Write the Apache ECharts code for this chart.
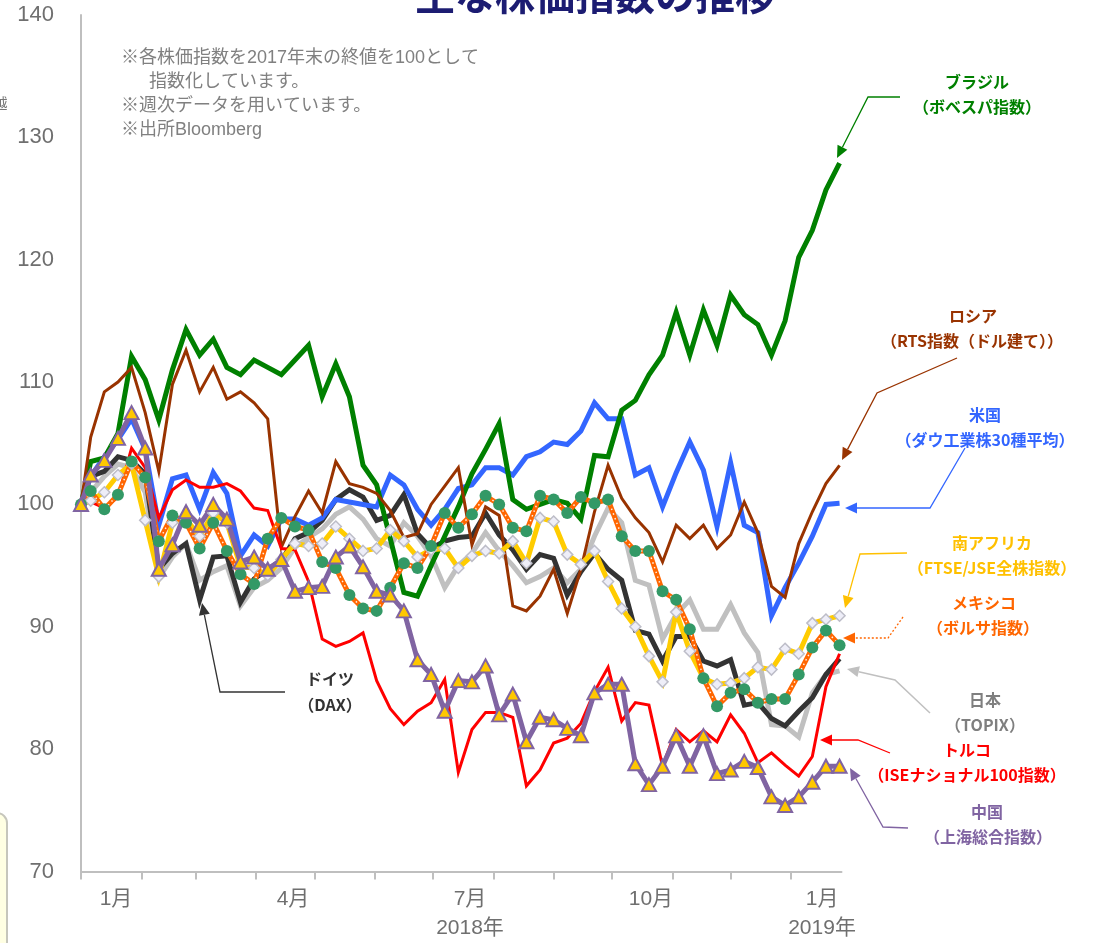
<!DOCTYPE html>
<html>
<head>
<meta charset="utf-8">
<script src="https://cdn.jsdelivr.net/npm/echarts@6/dist/echarts.min.js"></script>
<style>
html,body{margin:0;padding:0;background:#ffffff;}
#chart{width:1098px;height:943px;}
</style>
</head>
<body>
<div id="chart"></div>
<script>
// ---- categories (weekly closing dates; first = 2017 year end) ----
const dates = [
  '2017-12-31',
  '2018-01-05','2018-01-12','2018-01-19','2018-01-26',
  '2018-02-02','2018-02-09','2018-02-16','2018-02-23',
  '2018-03-02','2018-03-09','2018-03-16','2018-03-23','2018-03-30',
  '2018-04-06','2018-04-13','2018-04-20','2018-04-27',
  '2018-05-04','2018-05-11','2018-05-18','2018-05-25',
  '2018-06-01','2018-06-08','2018-06-15','2018-06-22','2018-06-29',
  '2018-07-06','2018-07-13','2018-07-20','2018-07-27',
  '2018-08-03','2018-08-10','2018-08-17','2018-08-24','2018-08-31',
  '2018-09-07','2018-09-14','2018-09-21','2018-09-28',
  '2018-10-05','2018-10-12','2018-10-19','2018-10-26',
  '2018-11-02','2018-11-09','2018-11-16','2018-11-23','2018-11-30',
  '2018-12-07','2018-12-14','2018-12-21','2018-12-28',
  '2019-01-04','2019-01-11','2019-01-18','2019-01-25'
];

// ---- series values (2017 year-end = 100) ----
const brazil = [100,103.5,103.8,105.8,112.1,110.2,106.9,111.0,114.3,112.2,113.5,111.2,110.6,111.8,111.2,110.6,111.8,113.0,108.8,111.5,108.8,103.2,101.6,97.2,92.8,92.5,95.0,97.4,99.8,102.5,104.5,106.6,100.4,99.6,100.0,100.4,100.1,98.8,104.0,103.9,107.7,108.5,110.6,112.2,115.7,112.2,115.9,113.0,117.1,115.5,114.7,112.2,115.0,120.2,122.4,125.7,127.9];
const russia = [100,105.5,109.2,110.0,111.2,107.5,102.7,109.8,112.6,109.2,111.2,108.6,109.2,108.3,107.0,96.5,99.0,101.1,99.3,103.5,101.7,101.4,100.9,99.5,97.3,97.6,100.0,101.5,103.0,96.7,99.8,99.1,91.7,91.3,92.5,94.7,91.1,94.7,99.4,103.2,100.5,98.9,97.7,95.3,98.3,97.2,98.3,96.4,97.5,100.2,97.7,93.3,92.4,96.8,99.4,101.7,103.2];
const usa = [100,102.3,103.9,105.3,107.0,104.5,98.3,102.1,102.4,99.6,102.6,100.9,95.8,97.5,96.6,98.8,98.8,98.3,98.9,100.4,100.2,100.0,99.8,102.4,101.6,99.6,98.3,99.6,101.3,101.6,103.0,103.0,102.4,103.9,104.3,105.1,104.9,106.0,108.3,107.0,107.0,102.4,103.0,99.8,102.6,105.1,102.8,98.2,103.4,98.3,97.7,90.9,93.2,95.2,97.4,100.0,100.1];
const southAfrica = [100,100.3,101.0,102.4,103.3,98.7,94.1,98.5,98.8,97.4,99.3,98.5,94.9,94.8,94.2,95.5,96.8,96.6,96.8,98.2,97.2,96.2,96.4,97.9,97.0,95.7,96.3,96.4,94.8,95.8,96.2,96.0,97.0,95.2,98.9,98.6,95.9,95.1,96.2,93.7,91.5,90.0,87.6,85.5,91.2,88.0,85.8,85.3,85.4,85.8,86.7,86.5,88.2,87.8,90.3,90.6,90.9];
const mexico = [100,101.1,99.6,100.8,103.5,102.2,97.0,99.1,98.5,96.4,98.5,96.2,94.3,93.5,97.2,98.9,98.2,97.9,95.3,94.8,92.6,91.5,91.3,93.2,95.2,94.8,96.6,99.3,98.1,99.2,100.7,100.0,98.1,97.8,100.7,100.4,99.3,100.6,100.1,100.4,97.4,96.2,96.2,92.9,92.2,89.8,85.8,83.5,84.6,84.9,83.8,84.1,84.1,86.1,88.3,89.7,88.5];
const japan = [100,101.0,102.3,103.3,103.0,101.0,94.0,95.7,96.8,93.8,94.5,95.0,91.7,93.2,93.8,94.8,96.5,97.3,98.0,99.2,99.8,98.8,97.2,96.6,98.5,97.4,95.8,93.2,95.0,96.0,97.7,96.2,95.0,93.6,94.1,94.8,93.6,94.7,97.4,99.7,98.5,93.8,93.4,89.0,91.0,92.2,89.8,89.8,91.8,89.5,87.9,82.0,81.9,81.0,84.6,86.1,86.4];
const germany = [100,102.3,102.7,103.9,103.6,102.5,94.7,96.0,96.8,92.2,95.7,95.8,92.0,93.9,94.7,95.4,97.2,97.7,98.7,100.4,101.2,100.6,98.7,99.1,100.8,97.6,96.4,97.0,97.3,97.4,99.3,97.5,96.3,94.7,95.9,95.6,92.6,94.5,96.0,94.7,93.8,89.7,89.4,87.2,89.2,89.2,87.2,86.8,87.3,83.6,83.8,82.5,81.9,83.1,84.2,86.1,87.4];
const turkey = [100,100.2,99.7,100.6,104.6,103.0,98.9,101.2,102.0,101.4,101.4,101.7,101.1,99.7,99.5,96.4,96.3,93.7,89.0,88.4,88.8,89.5,85.6,83.3,82.0,83.1,83.8,85.7,78.1,81.6,83.0,83.0,82.6,77.0,78.3,80.5,80.9,82.1,84.7,86.7,82.3,83.8,83.6,78.6,81.6,80.6,81.5,80.6,82.8,81.3,78.9,79.7,78.7,77.8,79.4,85.1,87.8];
const china = [100,102.4,103.6,105.4,107.5,104.6,94.7,96.7,99.4,98.3,100.0,98.8,95.3,95.7,94.7,95.5,92.9,93.2,93.3,95.7,96.6,94.9,92.9,92.6,91.3,87.3,86.1,83.1,85.6,85.5,86.8,82.8,84.5,80.6,82.6,82.4,81.7,81.1,84.6,85.3,85.3,78.8,77.1,78.6,81.1,78.6,81.1,78.0,78.3,79.0,78.5,76.1,75.4,76.1,77.3,78.6,78.6];

// ---- axis ticks / labels ----
const axisStart = '2017-12-31';
const axisEnd = '2019-01-26';
const monthTicks = ['2017-12-31','2018-01-31','2018-02-28','2018-03-31','2018-04-30','2018-05-31','2018-06-30','2018-07-31','2018-08-31','2018-09-30','2018-10-31','2018-11-30','2018-12-31'];
const labelDates = ['2018-01-18','2018-04-19','2018-07-19','2018-10-20','2019-01-16'];
const monthLabels = ['1月','4月','7月','10月','1月'];
const yearLabels = ['','','2018年','','2019年'];
const yTicks = [70, 80, 90, 100, 110, 120, 130, 140];

// day number of a date counted from the axis start
function dayNo(s){
  const p = s.split('-').map(Number), q = axisStart.split('-').map(Number);
  return Math.round((Date.UTC(p[0], p[1]-1, p[2]) - Date.UTC(q[0], q[1]-1, q[2])) / 86400000);
}
function pairs(vals){ return dates.map((d,i)=>[dayNo(d), vals[i]]); }
const labelDays = labelDates.map(dayNo);

const chart = echarts.init(document.getElementById('chart'), null, {renderer:'canvas'});

const JP = '"Liberation Sans","Noto Sans CJK JP",sans-serif';
const JPB = '"Noto Sans CJK JP",sans-serif';

function lineSeries(name, vals, color, width, extra){
  return Object.assign({
    name: name, type: 'line', data: pairs(vals),
    showSymbol: false, symbol: 'none', smooth: false,
    lineStyle: {color: color, width: width, join: 'miter'},
    itemStyle: {color: color},
    emphasis: {disabled: true}, silent: true, animation: false
  }, extra || {});
}

function arrow(points, color, width, dash){
  const n = points.length;
  const tip = points[n-1], prev = points[n-2];
  const dx = tip[0]-prev[0], dy = tip[1]-prev[1];
  const len = Math.sqrt(dx*dx+dy*dy);
  const ux = dx/len, uy = dy/len;
  const hl = 12, hw = 5.5;
  const bx = tip[0]-ux*hl, by = tip[1]-uy*hl;
  const head = [[tip[0],tip[1]],[bx - uy*hw, by + ux*hw],[bx + uy*hw, by - ux*hw]];
  const linePts = points.slice(0, n-1).concat([[bx, by]]);
  return [
    {type:'polyline', silent:true, z:50, shape:{points: linePts},
     style:{stroke: color, lineWidth: width, fill: null, lineDash: dash || null}},
    {type:'polygon', silent:true, z:50, shape:{points: head}, style:{fill: color}}
  ];
}
function label(x, y, text, color){
  return {type:'text', silent:true, z:50, x:x, y:y,
    style:{text:text, fill:color, font:'bold 16px '+JPB, align:'center', verticalAlign:'middle', textAlign:'center', textVerticalAlign:'middle'}};
}

const notes = [
  {x:121, y:58, t:'※各株価指数を2017年末の終値を100として'},
  {x:149, y:82, t:'指数化しています。'},
  {x:121, y:106, t:'※週次データを用いています。'},
  {x:121, y:130, t:'※出所Bloomberg'}
];

const graphics = [
  {type:'rect', silent:true, z:1, shape:{x:-40, y:813, width:47, height:200, r:10},
   style:{fill:'#FFFFE3', stroke:'#C6C6BC', lineWidth:2}},
  {type:'text', silent:true, x:0, y:103, style:{text:'越', fill:'#777777', font:'15px '+JPB, align:'center', verticalAlign:'middle', textAlign:'center', textVerticalAlign:'middle'}},
  {type:'text', silent:true, x:595, y:-5, style:{text:'主な株価指数の推移', fill:'#1C1C72', font:'bold 40px '+JPB, align:'center', verticalAlign:'middle', textAlign:'center', textVerticalAlign:'middle'}}
];
notes.forEach(n => graphics.push({type:'text', silent:true, x:n.x, y:n.y,
  style:{text:n.t, fill:'#808080', font:'18px '+JP, align:'left', verticalAlign:'middle', textAlign:'left', textVerticalAlign:'middle'}}));

// annotations
graphics.push(label(977, 82, 'ブラジル', '#008000'), label(977, 107, '（ボベスパ指数）', '#008000'));
graphics.push(...arrow([[900,97],[868,97],[837,158]], '#008000', 1.3));
graphics.push(label(973, 316, 'ロシア', '#993300'), label(972, 341, '（RTS指数（ドル建て））', '#993300'));
graphics.push(...arrow([[957,358],[877,393],[842,460]], '#993300', 1.3));
graphics.push(label(985, 415, '米国', '#3366FF'), label(985, 440, '（ダウ工業株30種平均）', '#3366FF'));
graphics.push(...arrow([[965,448],[930,508],[845,508]], '#3366FF', 1.3));
graphics.push(label(992, 543, '南アフリカ', '#FFC000'), label(992, 568, '（FTSE/JSE全株指数）', '#FFC000'));
graphics.push(...arrow([[907,553],[860,554],[845,608]], '#FFC000', 1.3));
graphics.push(label(984, 603, 'メキシコ', '#FF6600'), label(983, 628, '（ボルサ指数）', '#FF6600'));
graphics.push(...arrow([[903,617],[888,638],[843,638]], '#FF6600', 1.3, [2,2]));
graphics.push(label(985, 700, '日本', '#7F7F7F'), label(985, 725, '（TOPIX）', '#7F7F7F'));
graphics.push(...arrow([[930,713],[895,680],[847,669]], '#C0C0C0', 1.5));
graphics.push(label(967, 750, 'トルコ', '#FF0000'), label(967, 775, '（ISEナショナル100指数）', '#FF0000'));
graphics.push(...arrow([[890,753],[858,740],[820,740]], '#FF0000', 1.3));
graphics.push(label(987, 812, '中国', '#8064A2'), label(988, 837, '（上海総合指数）', '#8064A2'));
graphics.push(...arrow([[908,828],[883,827],[850,768]], '#8064A2', 1.3));
graphics.push(label(330, 679, 'ドイツ', '#333333'), label(330, 705, '（DAX）', '#333333'));
graphics.push(...arrow([[285,692],[220,692],[202,603]], '#333333', 1.3));

const option = {
  animation: false,
  backgroundColor: '#ffffff',
  grid: {left: 81, right: 256.5, top: 15, bottom: 71.5, containLabel: false},
  xAxis: {
    type: 'value', min: 0, max: dayNo(axisEnd),
    splitLine: {show: false},
    axisLine: {show: true, onZero: false, lineStyle: {color: '#BFBFBF', width: 2}},
    axisTick: {show: true, customValues: monthTicks.map(dayNo), length: 8, lineStyle: {color: '#BFBFBF', width: 2}},
    axisLabel: {
      customValues: labelDays, margin: 13, color: '#6F6F6F', fontSize: 21, lineHeight: 29,
      fontFamily: JP, hideOverlap: false, showMinLabel: true, showMaxLabel: true,
      formatter: function(v){
        let best = 0, bd = Infinity;
        labelDays.forEach((t,i)=>{ const d = Math.abs(t - v); if (d < bd){ bd = d; best = i; } });
        return yearLabels[best] ? monthLabels[best] + '\n' + yearLabels[best] : monthLabels[best];
      }
    }
  },
  yAxis: {
    type: 'value', min: yTicks[0], max: yTicks[yTicks.length-1], interval: 10,
    splitLine: {show: false},
    axisLine: {show: true, lineStyle: {color: '#BFBFBF', width: 2}},
    axisTick: {show: false},
    axisLabel: {color: '#6F6F6F', fontSize: 22, fontFamily: JP, margin: 27}
  },
  graphic: graphics,
  series: [
    lineSeries('日本', japan, '#C0C0C0', 5),
    lineSeries('ドイツ', germany, '#333333', 5),
    lineSeries('米国', usa, '#3366FF', 5),
    lineSeries('ブラジル', brazil, '#008000', 5),
    lineSeries('ロシア', russia, '#993300', 3),
    lineSeries('トルコ', turkey, '#FF0000', 3),
    lineSeries('南アフリカ', southAfrica, '#FFCC00', 5, {
      showSymbol: true, showAllSymbol: true, symbol: 'diamond', symbolSize: 11,
      itemStyle: {color: '#EEEEF8', borderColor: '#BDBDC8', borderWidth: 1.5}
    }),
    lineSeries('メキシコ', mexico, '#FF6600', 5),
    lineSeries('メキシコ点', mexico, 'rgba(255,255,255,0.9)', 1.5, {
      lineStyle: {color: 'rgba(255,255,255,0.9)', width: 1.5, type: [1.5, 3.5]},
      showSymbol: true, showAllSymbol: true, symbol: 'circle', symbolSize: 12,
      itemStyle: {color: '#339966', borderWidth: 0}
    }),
    lineSeries('中国', china, '#8064A2', 5, {
      showSymbol: true, showAllSymbol: true, symbol: 'triangle', symbolSize: [14, 13],
      itemStyle: {color: '#FFC800', borderColor: '#8064A2', borderWidth: 2}
    })
  ]
};
chart.setOption(option);
</script>
</body>
</html>
